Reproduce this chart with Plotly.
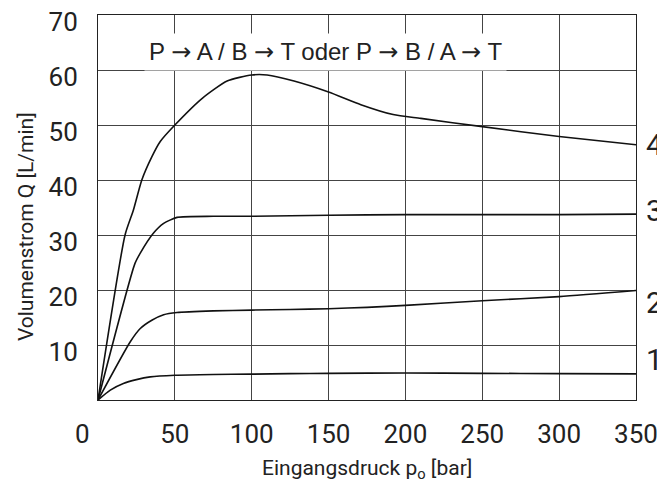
import plotly.graph_objects as go

# Data
p1 = [0, 8, 16.5, 25, 34, 50, 75, 100, 125, 150, 200, 250, 300, 350]
q1 = [0, 1.8, 3.0, 3.7, 4.2, 4.5, 4.65, 4.7, 4.8, 4.85, 4.9, 4.85, 4.8, 4.75]

p2 = [0, 21, 27.5, 35, 42.7, 51.4, 75, 100, 125, 150, 175, 200, 250, 300, 350]
q2 = [0, 10.6, 13, 14.5, 15.5, 15.9, 16.2, 16.35, 16.45, 16.6, 16.85, 17.2, 18.05, 18.8, 19.9]

p3 = [0, 24, 27.5, 36, 42.7, 51.4, 75, 100, 150, 200, 250, 300, 350]
q3 = [0, 24.8, 26.7, 30.3, 32.1, 33.2, 33.4, 33.4, 33.6, 33.7, 33.7, 33.7, 33.8]

p4 = [0, 17.6, 23, 28.5, 35, 40.5, 50, 68, 84, 100, 110, 127.5, 150, 171, 192, 210, 250, 300, 350]
q4 = [0, 30, 34.5, 40, 44.2, 47, 50, 54.9, 58, 59.1, 59.1, 58, 56, 53.7, 51.9, 51.2, 49.7, 47.9, 46.4]

curve_names = ["1", "2", "3", "4"]
curve_label_q = [7.3, 17.8, 34.5, 46.5]

x_ticks = [50, 100, 150, 200, 250, 300, 350]
y_ticks = [10, 20, 30, 40, 50, 60, 70]

ARROW = '<span style="font-family:DejaVu Sans">\u2192</span>'
title_text = f"P {ARROW} A / B {ARROW} T oder P {ARROW} B / A {ARROW} T"
x_title = "Eingangsdruck p<sub>o</sub> [bar]"
y_title = "Volumenstrom Q [L/min]"

NARROW = "Roboto, DejaVu Sans, sans-serif"
REG = "Liberation Sans, Arial, Helvetica, sans-serif"


def nfont(size):
    return dict(family=NARROW, size=size, color="#222")


fig = go.Figure()
for px_, qy in [(p1, q1), (p2, q2), (p3, q3), (p4, q4)]:
    fig.add_trace(go.Scatter(x=px_, y=qy, mode="lines",
                             line=dict(color="#111111", width=1.6, shape="spline", smoothing=0.6),
                             showlegend=False, hoverinfo="skip"))

annotations = []
for name, qv in zip(curve_names, curve_label_q):
    annotations.append(dict(x=350, y=qv, xref="x", yref="y", text=name, showarrow=False,
                            xanchor="left", xshift=8, font=nfont(30)))
annotations.append(dict(x=148, y=63.3, xref="x", yref="y", text=title_text, showarrow=False,
                        bgcolor="white", borderpad=4,
                        font=dict(family=REG, size=24, color="#222")))
annotations.append(dict(x=0, y=0, xref="x", yref="y", text="0", showarrow=False,
                        xshift=-16, yshift=-34, font=nfont(26)))
annotations.append(dict(x=0.5, y=-0.18, xref="paper", yref="paper", text=x_title, showarrow=False,
                        yanchor="middle", font=nfont(21)))
annotations.append(dict(x=-0.135, y=0.45, xref="paper", yref="paper", text=y_title, showarrow=False,
                        textangle=-90, xanchor="center", font=nfont(21)))

# page body adds an 8px offset; the figure is sized so the plot lands where the reference has it
fig.update_layout(
    width=657, height=486,
    margin=dict(l=90, r=29, t=7, b=94),
    paper_bgcolor="white", plot_bgcolor="white",
    annotations=annotations,
    xaxis=dict(range=[0, 350], tickvals=x_ticks, showgrid=True, gridcolor="#444", gridwidth=1,
               showline=True, linecolor="#222", linewidth=1, mirror=True, zeroline=False,
               ticks="", ticklabelstandoff=11, automargin=False,
               tickfont=nfont(26)),
    yaxis=dict(range=[0, 70], tickvals=y_ticks, showgrid=True, gridcolor="#444", gridwidth=1,
               showline=True, linecolor="#222", linewidth=1, mirror=True, zeroline=False,
               ticks="", ticklabelstandoff=14, ticklabelshift=7, ticklabeloverflow="allow",
               automargin=False, tickfont=nfont(26)),
)

fig.write_html("out.html")
